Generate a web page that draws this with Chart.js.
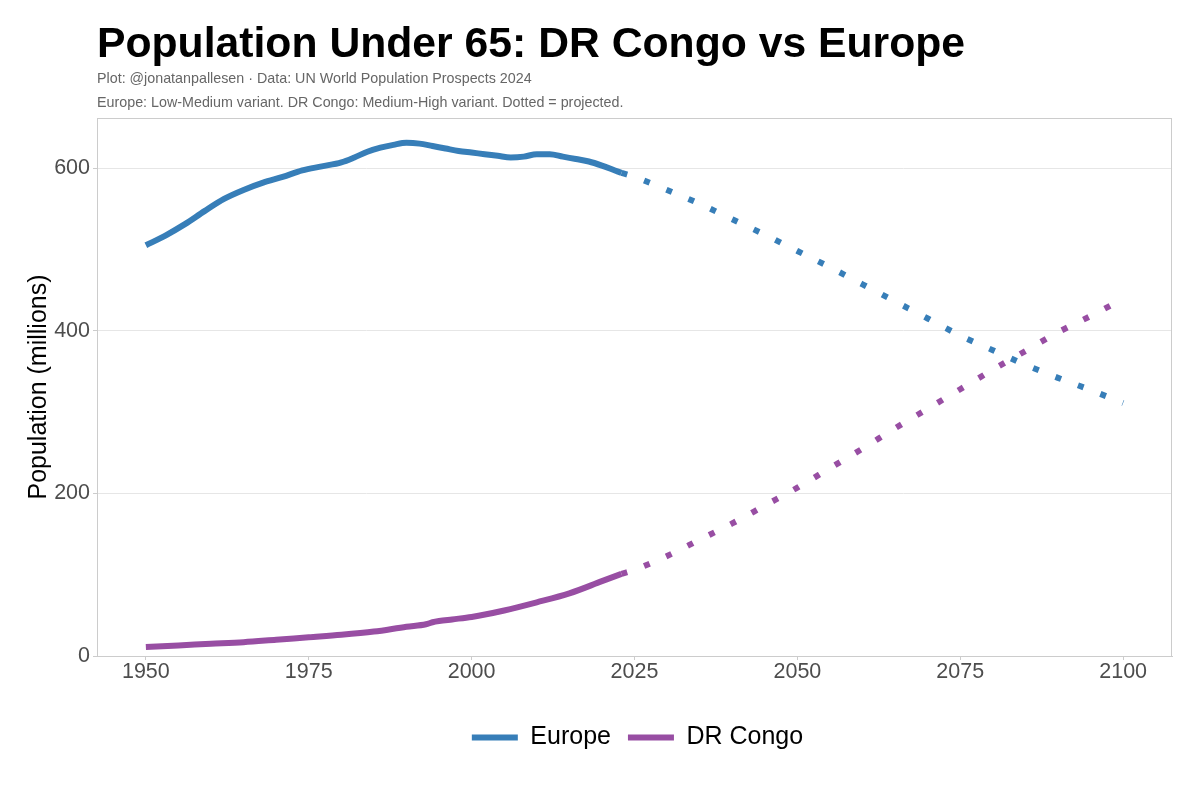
<!DOCTYPE html>
<html>
<head>
<meta charset="utf-8">
<script src="https://cdn.jsdelivr.net/npm/chart.js@4.4.1/dist/chart.umd.min.js"></script>
<style>
html,body{margin:0;padding:0;background:#fff;}
#wrap{position:relative;width:1200px;height:800px;overflow:hidden;}
canvas{position:absolute;left:0;top:0;}
#title{position:absolute;left:97px;top:18px;font:bold 42.7px "Liberation Sans",Arial,sans-serif;color:#000;white-space:nowrap;}
.sub{position:absolute;left:97px;font:14.3px "Liberation Sans",Arial,sans-serif;color:#666;white-space:nowrap;}
</style>
</head>
<body>
<div id="wrap">
<canvas id="c" width="1200" height="800"></canvas>
<div id="title">Population Under 65: DR Congo vs Europe</div>
<div class="sub" style="top:70px">Plot: @jonatanpallesen · Data: UN World Population Prospects 2024</div>
<div class="sub" style="top:94px">Europe: Low-Medium variant. DR Congo: Medium-High variant. Dotted = projected.</div>
</div>
<script>
// ---- data (millions) ----
const seriesNames = ["Europe", "DR Congo"];

const europeHistYears = [1950,1953,1956,1959,1962,1965,1968,1971,1974,1977,1980,1982,1984,1986,1988,1990,1992,1994,1996,1998,2000,2002,2004,2006,2008,2010,2012,2014,2016,2018,2020,2022,2023];
const europeHist      = [505, 517, 531, 547, 562, 573, 582, 589, 597, 602, 607, 613, 620, 625, 628.5,631, 630, 627, 624, 621, 619, 617, 615, 613, 614, 617, 617, 614, 611, 608, 603, 597, 594];

const europeProjYears = [2023,2025,2030,2035,2040,2045,2050,2055,2060,2065,2070,2075,2080,2085,2090,2095,2100];
const europeProj      = [594, 589, 573, 556, 537, 518, 498, 478, 457, 436, 415, 394, 376, 358, 342, 327, 311];

const congoHistYears = [1950,1955,1960,1965,1970,1975,1980,1985,1990,1993,1994,1995,1997,2000,2005,2010,2015,2020,2023];
const congoHist      = [11,  13,  15,  17,  20,  23,  26,  30,  36,  39,  41.5,43,  45,  48,  56,  66,  77,  92,  101];

const congoProjYears = [2023,2025,2030,2035,2040,2045,2050,2055,2060,2065,2070,2075,2080,2085,2090,2095,2100];
const congoProj      = [101, 106, 123, 143, 163, 185, 207, 231, 255, 280, 304, 328, 352, 375, 398, 418, 439];

const xTicks = [1950, 1975, 2000, 2025, 2050, 2075, 2100];
const yTicks = [0, 200, 400, 600];

const EU_COLOR = "#377EB8";
const CD_COLOR = "#984EA3";

const toXY = (xs, ys) => xs.map((x, i) => ({x: x, y: ys[i]}));

const base = {pointRadius: 0, pointHoverRadius: 0, borderWidth: 6, borderCapStyle: "butt", borderJoinStyle: "round", cubicInterpolationMode: "monotone", fill: false};

const panelBorder = {
  id: "panelBorder",
  afterLayout(chart) {
    // centre the legend under the panel
    if (chart.legend) { chart.legend.left = 103; }
  },
  afterDatasetsDraw(chart) {
    const a = chart.chartArea, ctx = chart.ctx;
    ctx.save();
    ctx.strokeStyle = "#CCCCCC";
    ctx.lineWidth = 1;
    ctx.strokeRect(Math.round(a.left) + 0.5, Math.round(a.top) + 0.5, Math.round(a.right - a.left) - 1, Math.round(a.bottom - a.top));
    ctx.restore();
  }
};

new Chart(document.getElementById("c"), {
  type: "line",
  data: {
    datasets: [
      Object.assign({}, base, {label: seriesNames[0], data: toXY(europeHistYears, europeHist), borderColor: EU_COLOR, backgroundColor: EU_COLOR}),
      Object.assign({}, base, {label: seriesNames[0] + " (projected)", data: toXY(europeProjYears, europeProj), borderColor: EU_COLOR, backgroundColor: EU_COLOR, borderDash: [6, 18]}),
      Object.assign({}, base, {label: seriesNames[1], data: toXY(congoHistYears, congoHist), borderColor: CD_COLOR, backgroundColor: CD_COLOR}),
      Object.assign({}, base, {label: seriesNames[1] + " (projected)", data: toXY(congoProjYears, congoProj), borderColor: CD_COLOR, backgroundColor: CD_COLOR, borderDash: [6, 18]})
    ]
  },
  options: {
    responsive: false,
    animation: false,
    devicePixelRatio: 1,
    layout: {padding: {left: 0, right: 28, top: 118, bottom: 40}},
    plugins: {
      title: {display: false},
      tooltip: {enabled: false},
      legend: {
        display: true,
        position: "bottom",
        labels: {
          filter: (item) => item.datasetIndex === 0 || item.datasetIndex === 2,
          usePointStyle: true,
          pointStyle: "line",
          pointStyleWidth: 46,
          boxWidth: 46,
          padding: 17,
          color: "#000",
          font: {family: "'Liberation Sans', Arial, sans-serif", size: 25}
        }
      }
    },
    scales: {
      x: {
        type: "linear",
        min: 1942.5,
        max: 2107.5,
        afterBuildTicks: (s) => { s.ticks = xTicks.map(v => ({value: v})); },
        afterFit: (s) => { s.height = 52; },
        grid: {drawOnChartArea: false, drawTicks: true, tickLength: 4, tickColor: "#CCCCCC"},
        border: {display: true, color: "#CCCCCC", width: 1},
        ticks: {color: "#4D4D4D", padding: -1, maxRotation: 0, autoSkip: false, font: {family: "'Liberation Sans', Arial, sans-serif", size: 21.5}, callback: (v) => String(v)}
      },
      y: {
        type: "linear",
        min: 0,
        max: 661.5,
        afterBuildTicks: (s) => { s.ticks = yTicks.map(v => ({value: v})); },
        afterFit: (s) => { s.width = 97; },
        grid: {color: "#E6E6E6", lineWidth: 1, drawTicks: true, tickLength: 4, tickColor: "#CCCCCC"},
        border: {display: true, color: "#CCCCCC", width: 1},
        ticks: {color: "#4D4D4D", padding: 3, font: {family: "'Liberation Sans', Arial, sans-serif", size: 21.5}, callback: (v) => String(v)},
        title: {display: true, text: "Population (millions)", color: "#000", padding: {top: 24, bottom: 0}, font: {family: "'Liberation Sans', Arial, sans-serif", size: 25}}
      }
    }
  },
  plugins: [panelBorder]
});
</script>
</body>
</html>
